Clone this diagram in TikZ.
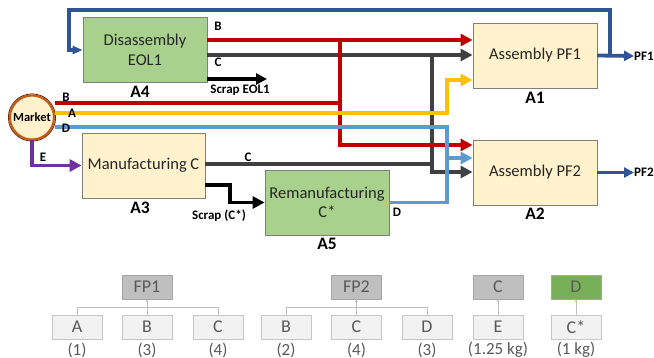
\documentclass[tikz,border=0pt]{standalone}
\usepackage{fontspec}
\setmainfont{Carlito}
\usetikzlibrary{arrows.meta}
\definecolor{cred}{HTML}{C00000}
\definecolor{cgray}{HTML}{404040}
\definecolor{cyel}{HTML}{FFC000}
\definecolor{clblue}{HTML}{5B9BD5}
\definecolor{cdblue}{HTML}{2F5597}
\definecolor{cpurp}{HTML}{7030A0}
\definecolor{boxgreen}{HTML}{A9D18E}
\definecolor{boxyel}{HTML}{FFF2CC}
\definecolor{boxedge}{HTML}{7F7F7F}
\definecolor{corange}{HTML}{C55A11}
\definecolor{cdred}{HTML}{7B2A10}
\definecolor{tgreen}{HTML}{78B05A}
\begin{document}
\begin{tikzpicture}[x=1pt,y=-1pt,
  proc/.style={draw=boxedge, line width=0.8pt, minimum width=124pt, minimum height=65pt, inner sep=0pt, align=center, text=black!85, font=\fontsize{16.5}{19.5}\selectfont},
  lbl/.style={font=\bfseries\fontsize{13}{15}\selectfont, inner sep=0pt},
  big/.style={font=\bfseries\fontsize{17.5}{20}\selectfont, inner sep=0pt},
  flow/.style={line width=3.8pt},
  arr/.style={-{Triangle[length=12pt,width=12pt]}},
  tp/.style={draw=gray!70, fill=gray!50, line width=0.6pt, minimum width=50pt, minimum height=24pt, inner sep=0pt, text=black!65, font=\fontsize{18}{20}\selectfont},
  tc/.style={draw=gray!45, fill=gray!10, line width=0.6pt, minimum width=50pt, minimum height=24pt, inner sep=0pt, text=black!65, font=\fontsize{18}{20}\selectfont},
  tn/.style={inner sep=0pt, text=black!65, font=\fontsize{17}{19}\selectfont},
  tl/.style={draw=gray!50, line width=0.7pt},
  tarr/.style={tl, -{Stealth[length=3pt,width=3pt]}}
]
\useasboundingbox (0,0) rectangle (654,358);

% process boxes
\node[proc, fill=boxgreen] (A4) at (145,50) {Disassembly\\EOL1};
\node[proc, fill=boxyel] (A1) at (535,55.5) {Assembly PF1};
\node[proc, fill=boxyel] (A2) at (535,172.5) {Assembly PF2};
\node[proc, fill=boxyel, minimum width=123pt] (A3) at (143.5,165.5) {Manufacturing C};
\node[proc, fill=boxgreen] (A5) at (327,202.5) {Remanufacturing\\C*};

% market
\node[circle, minimum size=44pt, fill=boxyel, draw=corange, line width=2pt, inner sep=0pt, font=\bfseries\fontsize{12.5}{14}\selectfont] (M) at (32,117.5) {Market};
\draw[cdred, line width=0.9pt] (M.center) circle (23.6pt);

% junction coordinates
\coordinate (jr) at (340,40);
\coordinate (jg) at (432,55);
\coordinate (jy) at (447,80);
\coordinate (jb) at (447,202.5);
\coordinate (se) at (267,79);
\coordinate (fb) at (610,10);

% gray flows
\draw[flow, cgray, arr] (A4.east |- 0,55) -- (A1.west |- 0,55);
\draw[flow, cgray] (A3.east |- 0,164) -- (jg |- 0,164);
\draw[flow, cgray, arr] (jg) |- (A2.west |- 0,172);

% red flows
\draw[flow, cred, arr] (A4.east |- 0,40) -- (A1.west |- 0,40);
\draw[flow, cred] (M.east |- 0,103) -- (jr |- 0,103);
\draw[flow, cred, arr] (jr) |- (A2.west |- 0,145);

% yellow
\draw[flow, cyel, arr] (M.east |- 0,113) -| (jy) -- (A1.west |- jy);

% light blue
\draw[flow, clblue] (M.east |- 0,127) -| (jb) -- (A5.east);
\draw[flow, clblue, arr] (jb |- 0,158) -- (A2.west |- 0,158);

% purple
\draw[flow, cpurp, arr] (M.south) |- (A3.west);

% scrap
\draw[flow, black, -{Triangle[length=11pt,width=11pt]}] (A4.east |- 0,79) -- (se);
\draw[flow, black, arr] (A3.east |- 0,185) -| (230,202.5) -- (A5.west);

% outputs
\node[lbl, anchor=west] (pf1) at (634,56) {PF1};
\node[lbl, anchor=west] (pf2) at (634,172.5) {PF2};
\draw[flow, cdblue, -{Triangle[length=10pt,width=10pt]}] (A1.east) -- (pf1.west);
\draw[flow, cdblue, -{Triangle[length=10pt,width=10pt]}] (A2.east) -- (pf2.west);
\draw[flow, cdblue, -{Triangle[length=10pt,width=8pt]}] (A1.east) -| (fb) -- (69,10) |- (A4.west);

% labels
\node[lbl] (lB1) at (218,26) {B};
\node[lbl] (lC1) at (218,62) {C};
\node[lbl] (lS1) at (240,90) {Scrap EOL1};
\node[lbl] (lB2) at (66,97) {B};
\node[lbl] (lA2) at (72,113) {A};
\node[lbl] (lD2) at (66,128) {D};
\node[lbl] (lE) at (43,157) {E};
\node[lbl] (lC2) at (248,157) {C};
\node[lbl] (lS2) at (219,216) {Scrap (C*)};
\node[lbl] (lD3) at (397,212) {D};
\node[big] (nA4) at (140,91.5) {A4};
\node[big] (nA1) at (535,97.5) {A1};
\node[big] (nA2) at (535,214) {A2};
\node[big] (nA3) at (140,208) {A3};
\node[big] (nA5) at (327,244) {A5};

% BOM trees
\node[tp] (fp1) at (147,287) {FP1};
\node[tc] (t1a) at (77,327) {A};
\node[tc] (t1b) at (147,327) {B};
\node[tc] (t1c) at (218,327) {C};
\node[tn] (q1a) at (77,350) {(1)};
\node[tn] (q1b) at (147,350) {(3)};
\node[tn] (q1c) at (218,350) {(4)};
\draw[tl] (t1a.north) |- (t1c.north |- 0,307) -- (t1c.north);
\draw[tarr] (t1b.north) -- (fp1.south);

\node[tp] (fp2) at (356.5,287) {FP2};
\node[tc] (t2b) at (286,327) {B};
\node[tc] (t2c) at (356.5,327) {C};
\node[tc] (t2d) at (427,327) {D};
\node[tn] (q2b) at (286,350) {(2)};
\node[tn] (q2c) at (356.5,350) {(4)};
\node[tn] (q2d) at (427,350) {(3)};
\draw[tl] (t2b.north) |- (t2d.north |- 0,307) -- (t2d.north);
\draw[tarr] (t2c.north) -- (fp2.south);

\node[tp] (tpc) at (498,287) {C};
\node[tc] (t3e) at (498,327) {E};
\node[tn] (q3e) at (498,350) {(1.25 kg)};
\draw[tarr] (t3e.north) -- (tpc.south);

\node[tp, fill=tgreen, draw=gray!70] (tpd) at (576,287) {D};
\node[tc] (t4c) at (576,327) {C*};
\node[tn] (q4c) at (576,350) {(1 kg)};
\draw[tarr] (t4c.north) -- (tpd.south);
\end{tikzpicture}
\end{document}
